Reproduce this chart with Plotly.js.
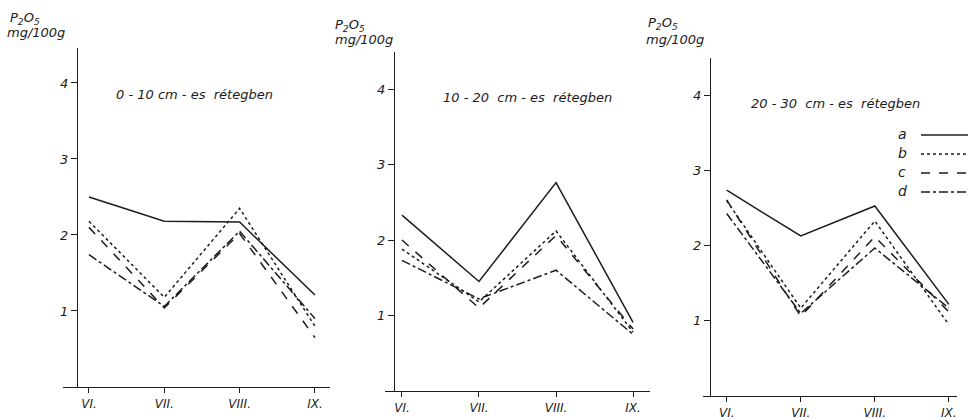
<!DOCTYPE html>
<html>
<head>
<meta charset="utf-8">
<script src="https://cdn.plot.ly/plotly-3.0.1.min.js"></script>
<style>html,body{margin:0;padding:0;background:#fff;}#chart{width:968px;height:419px;}</style>
</head>
<body>
<div id="chart"></div>
<script>
// ---- data ----
var months = ["VI.", "VII.", "VIII.", "IX."];
var seriesNames = ["a", "b", "c", "d"];
var panelTitles = ["0 - 10 cm - es  rétegben", "10 - 20  cm - es  rétegben", "20 - 30  cm - es  rétegben"];
// panel 1: 0-10 cm
var p1_a = [2.50, 2.18, 2.17, 1.21];
var p1_b = [2.18, 1.18, 2.35, 0.80];
var p1_c = [2.10, 1.04, 2.02, 0.65];
var p1_d = [1.74, 1.06, 2.05, 0.90];
// panel 2: 10-20 cm
var p2_a = [2.33, 1.45, 2.76, 0.91];
var p2_b = [1.88, 1.18, 2.12, 0.78];
var p2_c = [2.00, 1.10, 2.06, 0.82];
var p2_d = [1.73, 1.22, 1.60, 0.75];
// panel 3: 20-30 cm
var p3_a = [2.74, 2.13, 2.53, 1.22];
var p3_b = [2.60, 1.17, 2.33, 0.95];
var p3_c = [2.61, 1.06, 2.12, 1.12];
var p3_d = [2.43, 1.10, 1.97, 1.17];
var yUnitLabel = "mg/100g";
var yQuantity = "P<sub>2</sub>O<sub>5</sub>";

var panels = [[p1_a, p1_b, p1_c, p1_d], [p2_a, p2_b, p2_c, p2_d], [p3_a, p3_b, p3_c, p3_d]];
var dashes = ["solid", "dot", "dash", "dashdot"];
var ink = "#1c1c1c";
var FAM = "DejaVu Sans, sans-serif";

var W = 968, H = 419;
function fx(px){ return px / W; }
function fy(px){ return 1 - px / H; }

// panel geometry in pixels
var geo = [
  {xl: 63,  xr: 330, yax: 77,  y0: 387, ytop: 48, xrange: [-0.345, 3.20], ymax: 4.46},
  {xl: 385, xr: 650, yax: 394, y0: 391, ytop: 52, xrange: [-0.22, 3.22], ymax: 4.49},
  {xl: 703, xr: 957, yax: 710, y0: 396, ytop: 58, xrange: [-0.32, 3.11], ymax: 4.50}
];

var traces = [];
panels.forEach(function(p, i){
  var sfx = i === 0 ? "" : String(i + 1);
  p.forEach(function(vals, j){
    traces.push({
      type: "scatter", mode: "lines",
      x: months, y: vals,
      name: seriesNames[j],
      xaxis: "x" + sfx, yaxis: "y" + sfx,
      line: {color: ink, width: 1.5, dash: dashes[j]},
      showlegend: false, hoverinfo: "skip"
    });
  });
});

var layout = {
  width: W, height: H,
  margin: {l: 0, r: 0, t: 0, b: 0},
  paper_bgcolor: "#fff", plot_bgcolor: "rgba(0,0,0,0)",
  showlegend: false,
  annotations: [], shapes: []
};

geo.forEach(function(g, i){
  var sfx = i === 0 ? "" : String(i + 1);
  var yname = "y" + sfx;
  layout["xaxis" + sfx] = {
    domain: [fx(g.xl), fx(g.xr)],
    anchor: yname,
    type: "category",
    range: g.xrange,
    showgrid: false, zeroline: false,
    showline: true, linecolor: ink, linewidth: 1.2,
    ticks: "outside", ticklen: 5, tickcolor: ink,
    tickfont: {family: FAM, size: 12, color: ink, style: "italic"},
    fixedrange: true
  };
  layout["yaxis" + sfx] = {
    domain: [fy(g.y0), fy(g.ytop)],
    anchor: "free", position: fx(g.yax),
    range: [0, g.ymax],
    tickvals: [1, 2, 3, 4], ticktext: ["1", "2", "3", "4"],
    showgrid: false, zeroline: false,
    showline: true, linecolor: ink, linewidth: 1,
    ticks: "outside", ticklen: 6, tickcolor: ink,
    tickfont: {family: FAM, size: 13, color: ink, style: "italic"},
    fixedrange: true
  };
});

// axis-unit labels
var unitPos = [[25, 18, 36], [350, 25, 364], [663, 24, 675]];
unitPos.forEach(function(u){
  layout.annotations.push({
    xref: "paper", yref: "paper", x: fx(u[0]), y: fy(u[1]), xanchor: "center", yanchor: "middle",
    text: yQuantity, showarrow: false,
    font: {family: FAM, size: 13, color: ink, style: "italic"}
  });
  layout.annotations.push({
    xref: "paper", yref: "paper", x: fx(u[2]), y: fy(u[1] + 15), xanchor: "center", yanchor: "middle",
    text: yUnitLabel, showarrow: false,
    font: {family: FAM, size: 13, color: ink, style: "italic"}
  });
});

// panel titles
var titlePos = [[194, 95], [527, 98], [835, 103]];
titlePos.forEach(function(t, i){
  layout.annotations.push({
    xref: "paper", yref: "paper", x: fx(t[0]), y: fy(t[1]), xanchor: "center", yanchor: "middle",
    text: panelTitles[i], showarrow: false,
    font: {family: FAM, size: 13, color: ink, style: "italic"}
  });
});

// legend (letter then line sample), inside panel 3
var legY = [134, 153, 172, 191];
seriesNames.forEach(function(n, j){
  layout.annotations.push({
    xref: "paper", yref: "paper", x: fx(902), y: fy(legY[j]), xanchor: "center", yanchor: "middle",
    text: n, showarrow: false,
    font: {family: FAM, size: 14, color: ink, style: "italic"}
  });
  layout.shapes.push({
    type: "line", xref: "paper", yref: "paper",
    x0: fx(921), x1: fx(968), y0: fy(legY[j] + 1), y1: fy(legY[j] + 1),
    line: {color: ink, width: 1.5, dash: dashes[j]}
  });
});

Plotly.newPlot("chart", traces, layout, {staticPlot: true, displayModeBar: false});
</script>
</body>
</html>
